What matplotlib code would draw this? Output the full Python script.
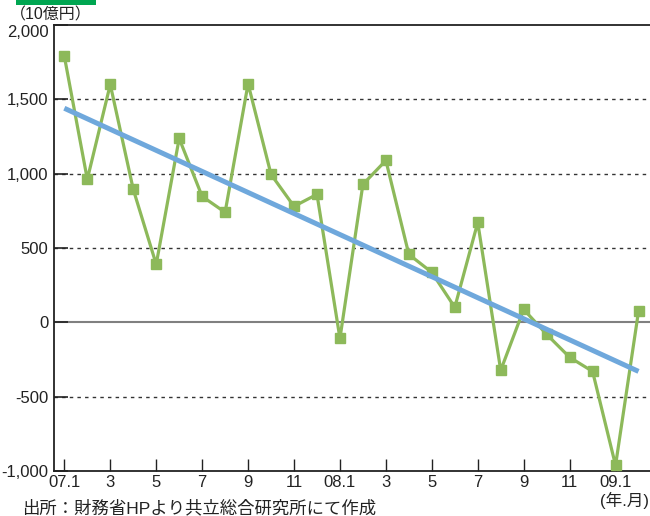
import matplotlib
matplotlib.use("Agg")
import matplotlib.pyplot as plt
from matplotlib.patches import Rectangle
import matplotlib.transforms as mtransforms

plt.rcParams['font.family'] = ['Liberation Sans', 'Noto Sans CJK JP', 'DejaVu Sans']

months = ["07.1", "07.2", "07.3", "07.4", "07.5", "07.6", "07.7", "07.8", "07.9", "07.10", "07.11", "07.12",
          "08.1", "08.2", "08.3", "08.4", "08.5", "08.6", "08.7", "08.8", "08.9", "08.10", "08.11", "08.12",
          "09.1", "09.2"]
values = [1790, 962, 1600, 895, 390, 1237, 847, 740, 1605, 995, 780, 861,
          -108, 928, 1089, 457, 336, 101, 672, -323, 87, -81, -235, -330,
          -962, 74]
trend_months = ["07.1", "09.2"]
trend_values = [1440, -330]

tick_labels = ["07.1", "3", "5", "7", "9", "11", "08.1", "3", "5", "7", "9", "11", "09.1"]
y_ticks = [-1000, -500, 0, 500, 1000, 1500, 2000]
y_labels = ["-1,000", "-500", "0", "500", "1,000", "1,500", "2,000"]

green = "#8DB95A"
blue = "#6FA8DC"
txt = "#222222"

fig = plt.figure(figsize=(6.5, 5.16), dpi=100)
ax = fig.add_axes([54/650, 45/516, 1 - 54/650, (471-25)/516])

x = list(range(len(months)))
tx = [months.index(m) for m in trend_months]

for v in [-500, 500, 1000, 1500]:
    ax.axhline(v, color="#333333", lw=1.0, linestyle=(0, (2.5, 3)), zorder=1)
ax.axhline(0, color="#808080", lw=1.5, zorder=1)

ax.plot(x, values, color=green, lw=2.3, marker='s', markersize=7.5,
        markerfacecolor=green, markeredgecolor=green, zorder=3)
ax.plot(tx, trend_values, color=blue, lw=3.6, solid_capstyle='butt', zorder=4)

ax.set_xlim(-0.45, 25.5)
ax.set_ylim(-1000, 2000)
ax.set_yticks(y_ticks)
ax.set_yticklabels(y_labels)
ax.set_xticks(list(range(0, 25, 2)))
ax.set_xticklabels(tick_labels)

ax.tick_params(axis='y', direction='in', length=10, width=1.2, pad=4, labelsize=12, colors=txt)
ax.tick_params(axis='x', direction='in', length=9, width=1.0, pad=3, labelsize=12, colors=txt)

# shift the top label slightly down as in the reference
top_lbl = ax.get_yticklabels()[-1]
top_lbl.set_transform(top_lbl.get_transform() + mtransforms.ScaledTranslation(0, -6/100, fig.dpi_scale_trans))

for s in ['left', 'bottom', 'top']:
    ax.spines[s].set_linewidth(1.3)
    ax.spines[s].set_color(txt)
ax.spines['right'].set_visible(False)

fig.text(10/650, 1 - 15/516, "（10億円）", fontsize=11.5, ha='left', va='center', color=txt)
fig.text(649/650, 1 - 500/516, "(年.月)", fontsize=12, ha='right', va='center', color=txt)
fig.text(22/650, 1 - 508/516, "出所：財務省HPより共立総合研究所にて作成", fontsize=12.5, ha='left', va='center', color=txt)

fig.patches.append(Rectangle((16/650, 1 - 5/516), 80/650, 5/516, transform=fig.transFigure,
                             facecolor="#00A651", edgecolor='none'))

fig.savefig("out.png", dpi=100)
